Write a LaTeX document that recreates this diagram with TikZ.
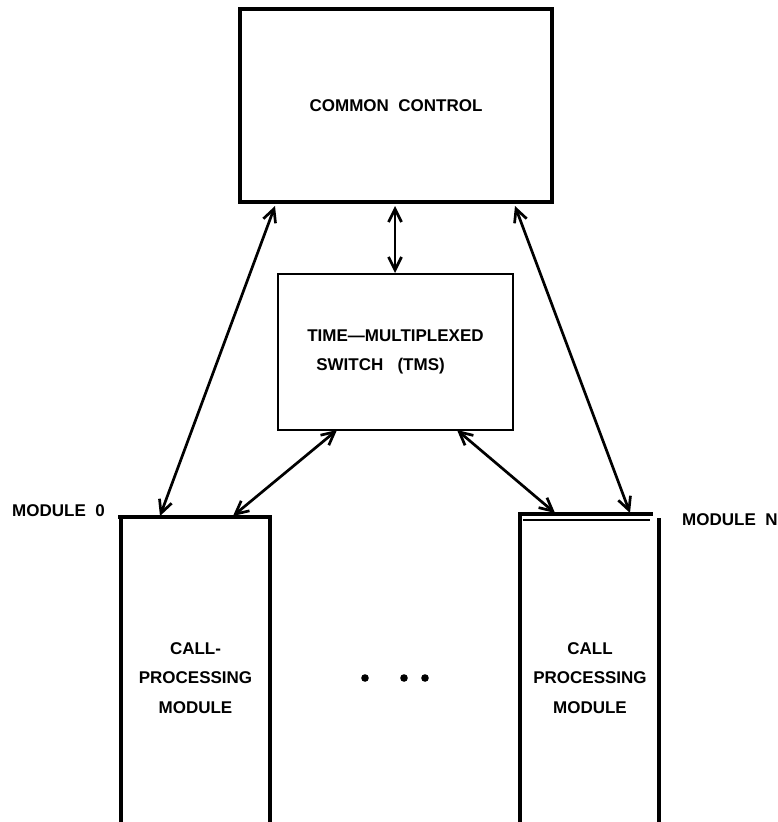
\documentclass[tikz,border=0pt]{standalone}
\usepackage{fontspec}
\setmainfont{Liberation Sans}
\usetikzlibrary{arrows.meta}
\begin{document}
\begin{tikzpicture}[x=1pt,y=-1pt,
  lbl/.style={font=\fontsize{17}{29.5}\selectfont\bfseries, inner sep=0pt},
  box/.style={draw, inner sep=0pt},
  modline/.style={line width=3.2pt},
  conn/.style={line width=2.7pt, {Straight Barb[length=13pt,width=13pt]}-{Straight Barb[length=13pt,width=13pt]}}]
\useasboundingbox (0,0) rectangle (778,822);
% boxes
\node[box, lbl, line width=3.6pt, minimum width=312pt, minimum height=193pt] (cc) at (396,105.5) {COMMON~~CONTROL};
\node[box, lbl, line width=2.3pt, minimum width=235pt, minimum height=156pt, align=left] (tms) at (395.5,352) {TIME—MULTIPLEXED\\\hspace*{9pt}SWITCH~~~(TMS)};
% module 0
\coordinate (m0tl) at (121,517);
\coordinate (m0tr) at (270,517);
\draw[modline] (121,822) -- (m0tl) (m0tr) -- (270,822);
\draw[modline] (118,517) -- (272,517);
\node[lbl, align=center] (m0txt) at (195.5,678) {CALL-\\PROCESSING\\MODULE};
\node[lbl, anchor=west] (m0lbl) at (12,511) {MODULE~~0};
% module N
\coordinate (mntl) at (520,516);
\coordinate (mntr) at (659,518);
\draw[modline] (520,822) -- (520,514) -- (653,514);
\draw[line width=2.4pt] (523,520) -- (650,520);
\draw[modline] (659,518) -- (659,822);
\node[lbl, align=center] (mntxt) at (590,678) {CALL\\PROCESSING\\MODULE};
\node[lbl, anchor=west] (mnlbl) at (682,520) {MODULE~~N};
% dots
\fill (365,678) circle (3.8pt) (404,678) circle (3.8pt) (425,678) circle (3.8pt);
% connector end points
\coordinate (c1) at (275,206);
\coordinate (c2) at (395,206);
\coordinate (c3) at (515,206);
\coordinate (t0) at (395,273);
\coordinate (t1) at (337,430);
\coordinate (t2) at (457,430);
\coordinate (p1) at (160,516);
\coordinate (p2) at (233,516);
\coordinate (p3) at (555,513);
\coordinate (p4) at (630,513);
\draw[conn] (c1) -- (p1);
\draw[conn] (c2) -- (t0);
\draw[conn] (c3) -- (p4);
\draw[conn] (t1) -- (p2);
\draw[conn] (t2) -- (p3);
\end{tikzpicture}
\end{document}
